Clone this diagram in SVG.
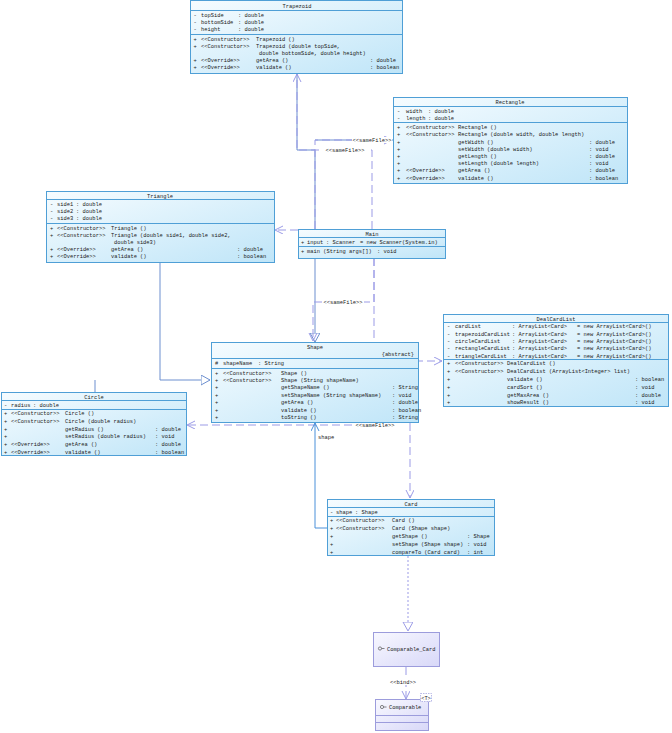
<svg xmlns="http://www.w3.org/2000/svg" width="672" height="733" viewBox="0 0 672 733">
<defs>
<linearGradient id="g" x1="0" y1="0" x2="1" y2="1"><stop offset="0" stop-color="#f6fcff"/><stop offset="1" stop-color="#bfe5f8"/></linearGradient>
<linearGradient id="gi" x1="0" y1="0" x2="1" y2="1"><stop offset="0" stop-color="#f8f8ff"/><stop offset="1" stop-color="#d8d8f8"/></linearGradient>
<marker id="dep" markerWidth="10" markerHeight="10" refX="8" refY="4" orient="auto" markerUnits="userSpaceOnUse"><path d="M0,0 L8,4 L0,8" fill="none" stroke="#9b9be6"/></marker>
<marker id="asc" markerWidth="10" markerHeight="10" refX="8" refY="4" orient="auto" markerUnits="userSpaceOnUse"><path d="M0,0 L8,4 L0,8" fill="none" stroke="#4a90d9"/></marker>
<marker id="gen" markerWidth="12" markerHeight="12" refX="9" refY="5" orient="auto" markerUnits="userSpaceOnUse"><path d="M0,0 L9,5 L0,10 Z" fill="#fff" stroke="#6d8fcf"/></marker>
<marker id="real" markerWidth="12" markerHeight="12" refX="9" refY="5" orient="auto" markerUnits="userSpaceOnUse"><path d="M0,0 L9,5 L0,10 Z" fill="#fff" stroke="#9b9be6"/></marker>
</defs>
<style>
.b{fill:url(#g);stroke:#4f9fd6;stroke-width:1}
.bi{fill:url(#gi);stroke:#9c9cdc;stroke-width:1}
.s{stroke:#4f9fd6;stroke-width:1}
.si{stroke:#9c9cdc;stroke-width:1}
.t{font-family:"Liberation Mono","DejaVu Sans Mono",monospace;font-size:5.4px;fill:#222}
.c{text-anchor:middle}
.e{text-anchor:end}
.dep{fill:none;stroke:#9b9be6;stroke-width:1;stroke-dasharray:8 4}
.gen{fill:none;stroke:#6d8fcf;stroke-width:1}
.asc{fill:none;stroke:#4a90d9;stroke-width:1}
.real{fill:none;stroke:#9b9be6;stroke-width:1;stroke-dasharray:2 2}
.lb{fill:#fff}
</style>
<g id="connectors">
<path class="gen" d="M297,74 V150 H315 V342" marker-end="url(#gen)"/>
<path class="gen" d="M393,140 H315"/>
<path class="dep" d="M372,229 V150 H297 V74" marker-end="url(#dep)"/>
<path class="dep" d="M315,229 V140 H392" marker-end="url(#dep)"/>
<path class="dep" d="M374,258 V302 H313 V341" marker-end="url(#dep)"/>
<path class="dep" d="M374,258 V361 H442" marker-end="url(#dep)"/>
<path class="dep" d="M298,230 H275" marker-end="url(#dep)"/>
<path class="dep" d="M352,425 H187" marker-end="url(#dep)"/>
<path class="dep" d="M410,423 V498" marker-end="url(#dep)"/>
<path class="asc" d="M327,528 H315 V423" marker-end="url(#asc)"/>
<path class="gen" d="M160,263 V380 H210" marker-end="url(#gen)"/>
<path class="gen" d="M95,392 V380"/>
<path class="real" d="M408,556 V631" marker-end="url(#real)"/>
<path class="dep" d="M406,667 V699" marker-end="url(#dep)"/>
<rect class="lb" x="323" y="147" width="44" height="6"/>
<text class="t c" x="345" y="152">&lt;&lt;sameFile&gt;&gt;</text>
<rect class="lb" x="352" y="137" width="40" height="6"/>
<text class="t c" x="372" y="142">&lt;&lt;sameFile&gt;&gt;</text>
<rect class="lb" x="322" y="299" width="42" height="6"/>
<text class="t c" x="343" y="304">&lt;&lt;sameFile&gt;&gt;</text>
<rect class="lb" x="354" y="422" width="42" height="6"/>
<text class="t c" x="375" y="427">&lt;&lt;sameFile&gt;&gt;</text>
<text class="t" x="318" y="439">shape</text>
<rect class="lb" x="390" y="679" width="26" height="6"/>
<text class="t c" x="403" y="684">&lt;&lt;bind&gt;&gt;</text>
</g>
<g id="Trapezoid">
<rect class="b" x="190.5" y="0.5" width="212" height="73"/>
<line class="s" x1="190.5" y1="10.5" x2="402.5" y2="10.5"/>
<line class="s" x1="190.5" y1="34.5" x2="402.5" y2="34.5"/>
<text class="t c" x="297" y="7.5">Trapezoid</text>
<text class="t" x="193.5" y="17">-</text><text class="t" x="201" y="17">topSide</text><text class="t" x="238" y="17">: double</text>
<text class="t" x="193.5" y="24">-</text><text class="t" x="201" y="24">bottomSide</text><text class="t" x="238" y="24">: double</text>
<text class="t" x="193.5" y="31">-</text><text class="t" x="201" y="31">height</text><text class="t" x="238" y="31">: double</text>
<text class="t" x="193.5" y="41">+</text><text class="t" x="201" y="41">&lt;&lt;Constructor&gt;&gt;</text><text class="t" x="256" y="41">Trapezoid ()</text>
<text class="t" x="193.5" y="48">+</text><text class="t" x="201" y="48">&lt;&lt;Constructor&gt;&gt;</text><text class="t" x="256" y="48">Trapezoid (double topSide,</text>
<text class="t" x="259" y="55">double bottomSide, double height)</text>
<text class="t" x="193.5" y="62">+</text><text class="t" x="201" y="62">&lt;&lt;Override&gt;&gt;</text><text class="t" x="256" y="62">getArea ()</text><text class="t" x="370" y="62">: double</text>
<text class="t" x="193.5" y="69">+</text><text class="t" x="201" y="69">&lt;&lt;Override&gt;&gt;</text><text class="t" x="256" y="69">validate ()</text><text class="t" x="370" y="69">: boolean</text>
</g>
<g id="Rectangle">
<rect class="b" x="393.5" y="97.5" width="234" height="86"/>
<line class="s" x1="393.5" y1="106.5" x2="627.5" y2="106.5"/>
<line class="s" x1="393.5" y1="122.5" x2="627.5" y2="122.5"/>
<text class="t c" x="510" y="104">Rectangle</text>
<text class="t" x="397" y="113">-</text><text class="t" x="406" y="113">width</text><text class="t" x="428" y="113">: double</text>
<text class="t" x="397" y="120">-</text><text class="t" x="406" y="120">length</text><text class="t" x="428" y="120">: double</text>
<text class="t" x="397" y="129">+</text><text class="t" x="406" y="129">&lt;&lt;Constructor&gt;&gt;</text><text class="t" x="458" y="129">Rectangle ()</text>
<text class="t" x="397" y="136">+</text><text class="t" x="406" y="136">&lt;&lt;Constructor&gt;&gt;</text><text class="t" x="458" y="136">Rectangle (double width, double length)</text>
<text class="t" x="397" y="143.5">+</text><text class="t" x="458" y="143.5">getWidth ()</text><text class="t" x="589" y="143.5">: double</text>
<text class="t" x="397" y="150.5">+</text><text class="t" x="458" y="150.5">setWidth (double width)</text><text class="t" x="589" y="150.5">: void</text>
<text class="t" x="397" y="158">+</text><text class="t" x="458" y="158">getLength ()</text><text class="t" x="589" y="158">: double</text>
<text class="t" x="397" y="165">+</text><text class="t" x="458" y="165">setLength (double length)</text><text class="t" x="589" y="165">: void</text>
<text class="t" x="397" y="172">+</text><text class="t" x="406" y="172">&lt;&lt;Override&gt;&gt;</text><text class="t" x="458" y="172">getArea ()</text><text class="t" x="589" y="172">: double</text>
<text class="t" x="397" y="179.5">+</text><text class="t" x="406" y="179.5">&lt;&lt;Override&gt;&gt;</text><text class="t" x="458" y="179.5">validate ()</text><text class="t" x="589" y="179.5">: boolean</text>
</g>
<g id="Triangle">
<rect class="b" x="46.5" y="191.5" width="228" height="71"/>
<line class="s" x1="46.5" y1="199.5" x2="274.5" y2="199.5"/>
<line class="s" x1="46.5" y1="223.5" x2="274.5" y2="223.5"/>
<text class="t c" x="160" y="197.5">Triangle</text>
<text class="t" x="50" y="206">-</text><text class="t" x="57" y="206">side1</text><text class="t" x="76" y="206">: double</text>
<text class="t" x="50" y="213">-</text><text class="t" x="57" y="213">side2</text><text class="t" x="76" y="213">: double</text>
<text class="t" x="50" y="220">-</text><text class="t" x="57" y="220">side3</text><text class="t" x="76" y="220">: double</text>
<text class="t" x="50" y="230">+</text><text class="t" x="57" y="230">&lt;&lt;Constructor&gt;&gt;</text><text class="t" x="111" y="230">Triangle ()</text>
<text class="t" x="50" y="237">+</text><text class="t" x="57" y="237">&lt;&lt;Constructor&gt;&gt;</text><text class="t" x="111" y="237">Triangle (double side1, double side2,</text>
<text class="t" x="114" y="244">double side3)</text>
<text class="t" x="50" y="251">+</text><text class="t" x="57" y="251">&lt;&lt;Override&gt;&gt;</text><text class="t" x="111" y="251">getArea ()</text><text class="t" x="237" y="251">: double</text>
<text class="t" x="50" y="258">+</text><text class="t" x="57" y="258">&lt;&lt;Override&gt;&gt;</text><text class="t" x="111" y="258">validate ()</text><text class="t" x="237" y="258">: boolean</text>
</g>
<g id="Main">
<rect class="b" x="298.5" y="229.5" width="147" height="29"/>
<line class="s" x1="298.5" y1="237.5" x2="445.5" y2="237.5"/>
<line class="s" x1="298.5" y1="246.5" x2="445.5" y2="246.5"/>
<text class="t c" x="372" y="235.5">Main</text>
<text class="t" x="301" y="243.5">+</text><text class="t" x="307" y="243.5">input</text><text class="t" x="326" y="243.5">: Scanner</text><text class="t" x="360" y="243.5">= new Scanner(System.in)</text>
<text class="t" x="301" y="253">+</text><text class="t" x="307" y="253">main (String args[])</text><text class="t" x="377" y="253">: void</text>
</g>
<g id="Shape">
<rect class="b" x="211.5" y="342.5" width="207" height="80"/>
<line class="s" x1="211.5" y1="358.5" x2="418.5" y2="358.5"/>
<line class="s" x1="211.5" y1="368.5" x2="418.5" y2="368.5"/>
<text class="t c" x="315" y="348.5">Shape</text>
<text class="t e" x="414" y="356">{abstract}</text>
<text class="t" x="215" y="365">#</text><text class="t" x="223" y="365">shapeName</text><text class="t" x="258" y="365">: String</text>
<text class="t" x="215" y="374.5">+</text><text class="t" x="223" y="374.5">&lt;&lt;Constructor&gt;&gt;</text><text class="t" x="281" y="374.5">Shape ()</text>
<text class="t" x="215" y="382">+</text><text class="t" x="223" y="382">&lt;&lt;Constructor&gt;&gt;</text><text class="t" x="281" y="382">Shape (String shapeName)</text>
<text class="t" x="215" y="389.3">+</text><text class="t" x="281" y="389.3">getShapeName ()</text><text class="t" x="392" y="389.3">: String</text>
<text class="t" x="215" y="396.7">+</text><text class="t" x="281" y="396.7">setShapeName (String shapeName)</text><text class="t" x="392" y="396.7">: void</text>
<text class="t" x="215" y="404">+</text><text class="t" x="281" y="404">getArea ()</text><text class="t" x="392" y="404">: double</text>
<text class="t" x="215" y="411.5">+</text><text class="t" x="281" y="411.5">validate ()</text><text class="t" x="392" y="411.5">: boolean</text>
<text class="t" x="215" y="418.8">+</text><text class="t" x="281" y="418.8">toString ()</text><text class="t" x="392" y="418.8">: String</text>
</g>
<g id="DealCardList">
<rect class="b" x="443.5" y="314.5" width="225" height="92"/>
<line class="s" x1="443.5" y1="322.5" x2="668.5" y2="322.5"/>
<line class="s" x1="443.5" y1="359.5" x2="668.5" y2="359.5"/>
<text class="t c" x="556" y="320.5">DealCardList</text>
<text class="t" x="447" y="328.2">-</text><text class="t" x="455" y="328.2">cardList</text><text class="t" x="512" y="328.2">: ArrayList&lt;Card&gt;</text><text class="t" x="577" y="328.2">= new ArrayList&lt;Card&gt;()</text>
<text class="t" x="447" y="335.6">-</text><text class="t" x="455" y="335.6">trapezoidCardList</text><text class="t" x="512" y="335.6">: ArrayList&lt;Card&gt;</text><text class="t" x="577" y="335.6">= new ArrayList&lt;Card&gt;()</text>
<text class="t" x="447" y="343">-</text><text class="t" x="455" y="343">circleCardList</text><text class="t" x="512" y="343">: ArrayList&lt;Card&gt;</text><text class="t" x="577" y="343">= new ArrayList&lt;Card&gt;()</text>
<text class="t" x="447" y="350.4">-</text><text class="t" x="455" y="350.4">rectangleCardList</text><text class="t" x="512" y="350.4">: ArrayList&lt;Card&gt;</text><text class="t" x="577" y="350.4">= new ArrayList&lt;Card&gt;()</text>
<text class="t" x="447" y="357.8">-</text><text class="t" x="455" y="357.8">triangleCardList</text><text class="t" x="512" y="357.8">: ArrayList&lt;Card&gt;</text><text class="t" x="577" y="357.8">= new ArrayList&lt;Card&gt;()</text>
<text class="t" x="447" y="365.4">+</text><text class="t" x="455" y="365.4">&lt;&lt;Constructor&gt;&gt;</text><text class="t" x="507" y="365.4">DealCardList ()</text>
<text class="t" x="447" y="373.2">+</text><text class="t" x="455" y="373.2">&lt;&lt;Constructor&gt;&gt;</text><text class="t" x="507" y="373.2">DealCardList (ArrayList&lt;Integer&gt; list)</text>
<text class="t" x="447" y="381">+</text><text class="t" x="507" y="381">validate ()</text><text class="t" x="635" y="381">: boolean</text>
<text class="t" x="447" y="388.8">+</text><text class="t" x="507" y="388.8">cardSort ()</text><text class="t" x="635" y="388.8">: void</text>
<text class="t" x="447" y="396.6">+</text><text class="t" x="507" y="396.6">getMaxArea ()</text><text class="t" x="635" y="396.6">: double</text>
<text class="t" x="447" y="404.4">+</text><text class="t" x="507" y="404.4">showResult ()</text><text class="t" x="635" y="404.4">: void</text>
</g>
<g id="Circle">
<rect class="b" x="1.5" y="392.5" width="185" height="63"/>
<line class="s" x1="1.5" y1="400.5" x2="186.5" y2="400.5"/>
<line class="s" x1="1.5" y1="409.5" x2="186.5" y2="409.5"/>
<text class="t c" x="94" y="398.5">Circle</text>
<text class="t" x="4" y="407">-</text><text class="t" x="11" y="407">radius</text><text class="t" x="33" y="407">: double</text>
<text class="t" x="4" y="415.3">+</text><text class="t" x="11" y="415.3">&lt;&lt;Constructor&gt;&gt;</text><text class="t" x="65" y="415.3">Circle ()</text>
<text class="t" x="4" y="423">+</text><text class="t" x="11" y="423">&lt;&lt;Constructor&gt;&gt;</text><text class="t" x="65" y="423">Circle (double radius)</text>
<text class="t" x="4" y="430.7">+</text><text class="t" x="65" y="430.7">getRadius ()</text><text class="t" x="155" y="430.7">: double</text>
<text class="t" x="4" y="438.3">+</text><text class="t" x="65" y="438.3">setRadius (double radius)</text><text class="t" x="155" y="438.3">: void</text>
<text class="t" x="4" y="446">+</text><text class="t" x="11" y="446">&lt;&lt;Override&gt;&gt;</text><text class="t" x="65" y="446">getArea ()</text><text class="t" x="155" y="446">: double</text>
<text class="t" x="4" y="453.7">+</text><text class="t" x="11" y="453.7">&lt;&lt;Override&gt;&gt;</text><text class="t" x="65" y="453.7">validate ()</text><text class="t" x="155" y="453.7">: boolean</text>
</g>
<g id="Card">
<rect class="b" x="327.5" y="499.5" width="167" height="56"/>
<line class="s" x1="327.5" y1="507.5" x2="494.5" y2="507.5"/>
<line class="s" x1="327.5" y1="516.5" x2="494.5" y2="516.5"/>
<text class="t c" x="411" y="505.5">Card</text>
<text class="t" x="330" y="514">-</text><text class="t" x="336" y="514">shape</text><text class="t" x="355" y="514">: Shape</text>
<text class="t" x="330" y="522.4">+</text><text class="t" x="336" y="522.4">&lt;&lt;Constructor&gt;&gt;</text><text class="t" x="392" y="522.4">Card ()</text>
<text class="t" x="330" y="530.2">+</text><text class="t" x="336" y="530.2">&lt;&lt;Constructor&gt;&gt;</text><text class="t" x="392" y="530.2">Card (Shape shape)</text>
<text class="t" x="330" y="538">+</text><text class="t" x="392" y="538">getShape ()</text><text class="t" x="467" y="538">: Shape</text>
<text class="t" x="330" y="545.8">+</text><text class="t" x="392" y="545.8">setShape (Shape shape)</text><text class="t" x="467" y="545.8">: void</text>
<text class="t" x="330" y="553.6">+</text><text class="t" x="392" y="553.6">compareTo (Card card)</text><text class="t" x="467" y="553.6">: int</text>
</g>
<g id="Comparable_Card">
<rect class="bi" x="373.5" y="632.5" width="66" height="34"/>
<circle cx="380" cy="648.5" r="1.6" fill="none" stroke="#555" stroke-width="0.7"/>
<line x1="381.6" y1="648.5" x2="384.5" y2="648.5" stroke="#555" stroke-width="0.7"/>
<text class="t" x="387" y="650.5">Comparable_Card</text>
</g>
<g id="Comparable">
<rect class="bi" x="375.5" y="699.5" width="53" height="31"/>
<line class="si" x1="375.5" y1="715.5" x2="428.5" y2="715.5"/>
<line class="si" x1="375.5" y1="722.5" x2="428.5" y2="722.5"/>
<circle cx="382" cy="707" r="1.6" fill="none" stroke="#555" stroke-width="0.7"/>
<line x1="383.6" y1="707" x2="386.5" y2="707" stroke="#555" stroke-width="0.7"/>
<text class="t" x="389" y="709">Comparable</text>
<rect x="420.5" y="693.5" width="11" height="8" fill="#fff" stroke="#9c9cdc" stroke-width="0.7" stroke-dasharray="1.5 1"/>
<text class="t c" x="426" y="699.5">&lt;T&gt;</text>
</g>
</svg>
